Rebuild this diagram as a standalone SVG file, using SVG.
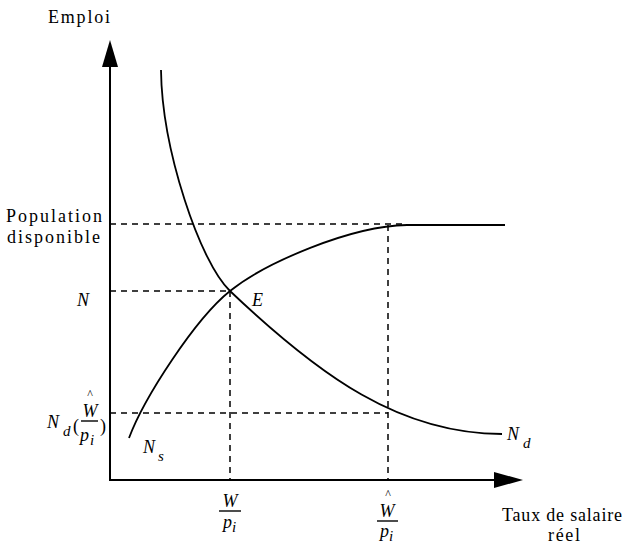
<svg xmlns="http://www.w3.org/2000/svg" width="630" height="544" viewBox="0 0 630 544">
<style>
.axis{stroke:#000;stroke-width:2;fill:none}
.curve{stroke:#000;stroke-width:1.8;fill:none}
.dash{stroke:#000;stroke-width:1.5;stroke-dasharray:6 5;fill:none}
.bar{stroke:#000;stroke-width:1.4}
text{font-family:"Liberation Serif",serif;fill:#000}
.lbl{font-size:18px;font-style:normal}
.it{font-size:18px;font-style:italic}
.sub{font-size:15px;font-style:italic}
.hat{font-size:12px}
</style>
<rect width="630" height="544" fill="#fff"/>
<g id="axes">
<line class="axis" x1="110" y1="481" x2="110" y2="64"/>
<polygon points="110,40 102,67 118,67" fill="#000"/>
<line class="axis" x1="109" y1="480" x2="497" y2="480"/>
<polygon points="523,480 494,472 494,488" fill="#000"/>
</g>
<g id="connectors">
<path class="dash" d="M110,224 H405"/>
<path class="dash" d="M110,291 H230"/>
<path class="dash" d="M110,413 H388"/>
<path class="dash" d="M230,291 V480"/>
<path class="dash" d="M388,225 V480"/>
</g>
<g id="Nd-curve">
<path class="curve" d="M161,70 C162,150 200,262.5 230,291 C320,376.5 400,434 502,434"/>
</g>
<g id="Ns-curve">
<path class="curve" d="M129,438 C144,398 195,319 230,291 C265,263 350,226 407,225 L505,225"/>
</g>
<g id="label-emploi"><text class="lbl" x="48" y="23" textLength="62" lengthAdjust="spacing">Emploi</text></g>
<g id="label-population">
<text class="lbl" x="6" y="222" textLength="96" lengthAdjust="spacing">Population</text>
<text class="lbl" x="7" y="243" textLength="93" lengthAdjust="spacing">disponible</text>
</g>
<g id="label-N"><text class="it" x="77" y="306">N</text></g>
<g id="label-E"><text class="it" x="252" y="306">E</text></g>
<g id="label-Nd-left">
<text class="it" x="47" y="428">N</text>
<text class="sub" x="63" y="436">d</text>
<text class="lbl" x="73" y="432">(</text>
<text class="hat" x="90" y="398" text-anchor="middle">^</text>
<text class="it" x="90" y="417" text-anchor="middle">W</text>
<line class="bar" x1="81" y1="421" x2="98" y2="421"/>
<text class="it" x="80" y="441">p</text>
<text class="sub" x="90" y="445">i</text>
<text class="lbl" x="100" y="432">)</text>
</g>
<g id="label-Ns">
<text class="it" x="143" y="453">N</text>
<text class="sub" x="158" y="461">s</text>
</g>
<g id="label-Nd-right">
<text class="it" x="507" y="440">N</text>
<text class="sub" x="523" y="448">d</text>
</g>
<g id="label-W-pi">
<text class="it" x="230" y="507" text-anchor="middle">W</text>
<line class="bar" x1="219" y1="511" x2="241" y2="511"/>
<text class="it" x="223" y="528">p</text>
<text class="sub" x="232" y="532">i</text>
</g>
<g id="label-What-pi">
<text class="hat" x="388" y="498" text-anchor="middle">^</text>
<text class="it" x="387" y="517" text-anchor="middle">W</text>
<line class="bar" x1="377" y1="521" x2="398" y2="521"/>
<text class="it" x="380" y="537">p</text>
<text class="sub" x="389" y="541">i</text>
</g>
<g id="label-taux">
<text class="lbl" x="502" y="521" textLength="120" lengthAdjust="spacing">Taux de salaire</text>
<text class="lbl" x="564" y="541" text-anchor="middle" textLength="32" lengthAdjust="spacing">réel</text>
</g>
</svg>
